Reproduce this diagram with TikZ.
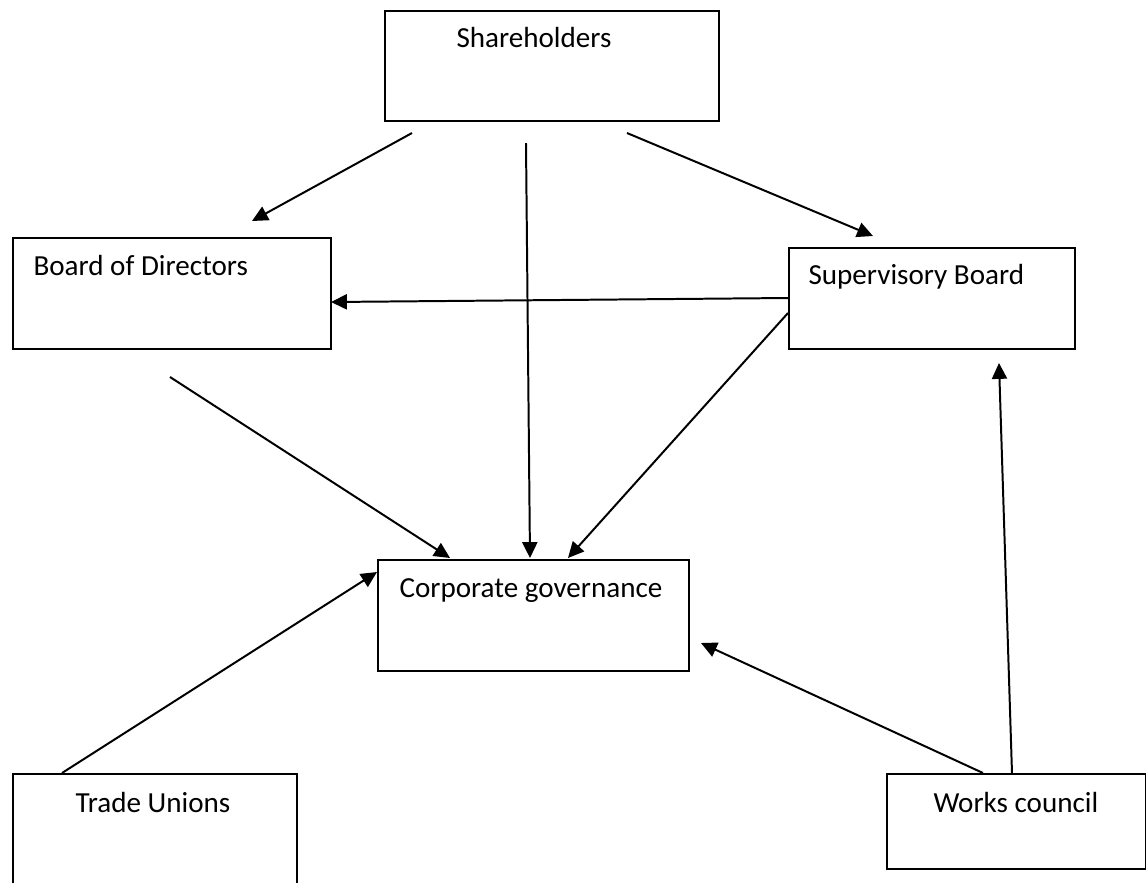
\documentclass[tikz,border=0pt]{standalone}
\usepackage{fontspec}
\setmainfont{Carlito}
\usetikzlibrary{arrows.meta}
\def\px{0.378pt}
\tikzset{
  box/.style={draw, line width=0.75pt, rectangle, inner sep=0pt, anchor=north west},
  lbl/.style={font=\fontsize{11}{13}\selectfont, inner sep=0pt, anchor=base west},
  link/.style={line width=0.75pt, -{Triangle[length=6pt,width=5.7pt]}},
}
\begin{document}
\begin{tikzpicture}[x=0.378pt,y=-0.378pt]
  \useasboundingbox (0,0) rectangle (1146,882);
  % boxes
  \node[box, minimum width=334*\px, minimum height=110*\px] (share) at (384,10) {};
  \node[box, minimum width=318*\px, minimum height=111*\px] (board) at (12,237) {};
  \node[box, minimum width=286*\px, minimum height=101*\px] (super) at (788,247) {};
  \node[box, minimum width=311*\px, minimum height=111*\px] (corp) at (377,559) {};
  \node[box, minimum width=284*\px, minimum height=140*\px] (union) at (12,773) {};
  \node[box, minimum width=259*\px, minimum height=95*\px] (works) at (886,773) {};
  % texts
  \node[lbl] (sharetxt) at (456,47) {Shareholders};
  \node[lbl] (boardtxt) at (33,275) {Board of Directors};
  \node[lbl] (supertxt) at (808,284) {Supervisory Board};
  \node[lbl] (corptxt) at (399,597) {Corporate governance};
  \node[lbl] (uniontxt) at (75,812) {Trade Unions};
  \node[lbl] (workstxt) at (933,812) {Works council};
  % connector ends
  \coordinate (s1) at (412,133);  \coordinate (b1) at (252,221);
  \coordinate (s2) at (526,143);  \coordinate (c1) at (530,558);
  \coordinate (s3) at (627,133);  \coordinate (p1) at (873,236);
  \coordinate (p2) at (788,298);  \coordinate (b2) at (331,302);
  \coordinate (p3) at (788,313);  \coordinate (c2) at (568,558);
  \coordinate (b3) at (170,377);  \coordinate (c3) at (450,558);
  \coordinate (u1) at (62,773);   \coordinate (c4) at (377,572);
  \coordinate (w1) at (983,773);  \coordinate (c5) at (701,643);
  \coordinate (w2) at (1012,773); \coordinate (p4) at (999,363);
  % arrows
  \draw[link] (s1) -- (b1);
  \draw[link] (s2) -- (c1);
  \draw[link] (s3) -- (p1);
  \draw[link] (p2) -- (b2);
  \draw[link] (p3) -- (c2);
  \draw[link] (b3) -- (c3);
  \draw[link] (u1) -- (c4);
  \draw[link] (w1) -- (c5);
  \draw[link] (w2) -- (p4);
\end{tikzpicture}
\end{document}
